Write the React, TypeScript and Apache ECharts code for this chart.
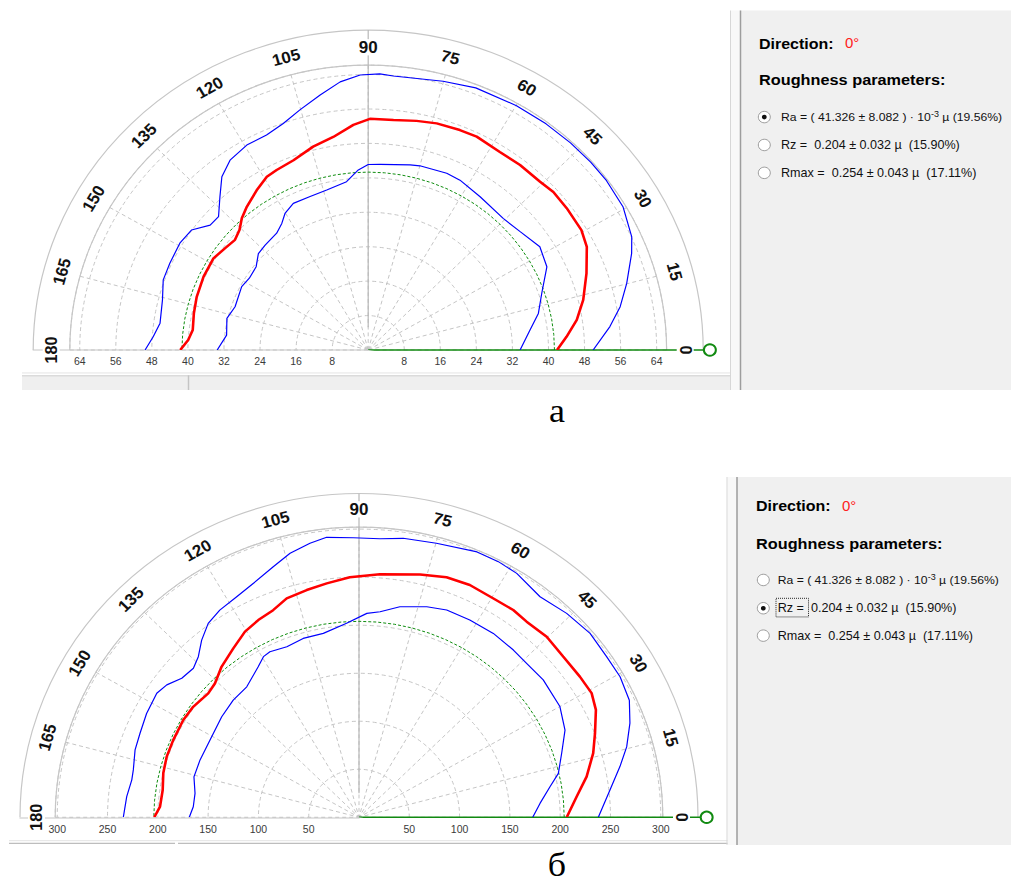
import { useEffect, useRef } from 'react';
import * as echarts from 'echarts';

// The whole sheet is laid out in an unsqueezed frame and then compressed
// vertically, so every y below is in that taller frame.
const PAGE_W = 1011;
const SQUASH_Y = 0.955;
const PAGE_H = Math.round(882 / SQUASH_Y);

const ANGLE_MIN = 0;
const ANGLE_MAX = 180;
const ANGLE_TICK = 15;
const angleTicks = [0, 15, 30, 45, 60, 75, 90, 105, 120, 135, 150, 165, 180];

// Sample angles for the dashed mean circle
const meanCircleAngles = [
  0, 5, 10, 15, 20, 25, 30, 35, 40, 45, 50, 55, 60, 65, 70, 75, 80, 85, 90,
  95, 100, 105, 110, 115, 120, 125, 130, 135, 140, 145, 150, 155, 160, 165, 170, 175, 180,
];

type Pt = [number, number]; // [angle in degrees, value]

// ---------- Plot а : Ra, 10^-3 µ ----------
const RA_MEAN = 41.326;
const RA_TICK = 8;
const RA_LAST_LABEL = 64;

const raMid: Pt[] = [
  [0, 41.9], [4.0, 44.1], [8.6, 46.8], [13.7, 49.1], [20.2, 51.6], [26.3, 54.1], [30.5, 54.9],
  [36.8, 55.0], [41.8, 55.1], [45.7, 54.6], [51.9, 54.6], [57.6, 54.5], [64.1, 55.1], [68.3, 55.0],
  [73.9, 54.8], [78.6, 54.3], [84.0, 53.7], [89.6, 53.7], [93.6, 52.4], [98.9, 50.1], [104.5, 48.8],
  [110.6, 47.1], [115.9, 46.5], [119.2, 46.1], [123.7, 44.6], [129.0, 42.8], [132.5, 41.5],
  [135.7, 39.9], [139.1, 39.1], [143.4, 39.6], [148.2, 40.4], [155.0, 40.3], [162.0, 40.0],
  [167.6, 39.6], [173.2, 39.2], [176.7, 40.0], [180, 41.7],
];
const raUpper: Pt[] = [
  [0, 49.9], [5.8, 53.9], [10.2, 56.8], [15.1, 59.4], [21.0, 62.6], [24.2, 64.1], [30.5, 65.6],
  [36.7, 65.9], [41.5, 65.9], [47.0, 65.8], [53.1, 65.7], [59.9, 65.6], [68.6, 65.4], [75.1, 64.6],
  [85.0, 63.9], [87.7, 64.2], [91.6, 63.9], [95.7, 62.6], [100.2, 60.2], [105.2, 57.8], [109.7, 55.9],
  [114.3, 54.8], [119.5, 54.7], [124.8, 53.7], [128.9, 51.7], [132.7, 48.5], [137.0, 45.4],
  [140.4, 45.5], [144.6, 48.1], [149.3, 48.6], [155.4, 48.4], [160.3, 48.3], [165.7, 47.1],
  [172.3, 46.6], [176.3, 47.8], [180, 49.5],
];
const raLower: Pt[] = [
  [0, 33.7], [7.4, 36.2], [12.7, 38.7], [18.9, 40.7], [26.0, 44.1], [32.2, 45.0], [39.2, 43.5],
  [45.6, 42.8], [55.1, 43.4], [62.7, 44.4], [67.0, 44.6], [75.0, 44.3], [77.8, 44.0], [86.5, 43.2],
  [90, 43.1], [93.0, 41.9], [97.0, 39.4], [103.9, 38.3], [110.1, 37.9], [116.0, 37.9], [120.2, 36.7],
  [123.1, 35.1], [126.8, 33.9], [133.2, 33.4], [137.4, 33.1], [142.1, 31.5], [147.7, 31.2],
  [152.3, 31.7], [161.2, 31.2], [166.8, 32.2], [173.7, 31.6], [180, 33.5],
];

// ---------- Plot б : Rz, 10^-3 µ ----------
const RZ_MEAN = 204;
const RZ_TICK = 50;
const RZ_LAST_LABEL = 300;

const rzMid: Pt[] = [
  [0, 206.5], [5.7, 217.5], [10.6, 230.2], [16.0, 242.2], [20.4, 250.3], [25.4, 260.7], [29.2, 264.9],
  [33.7, 263.9], [39.5, 263.0], [45.2, 264.8], [50.7, 263.1], [54.6, 264.7], [59.6, 264.1],
  [65.5, 265.7], [70.8, 264.6], [76.5, 260.0], [85.3, 253.8], [92.1, 250.0], [97.5, 245.6],
  [102.4, 242.2], [107.5, 239.0], [111.6, 231.9], [116.0, 228.4], [120.4, 224.0], [125.4, 215.7],
  [131.1, 207.9], [135.8, 199.8], [139.3, 197.7], [145.1, 201.0], [149.9, 201.9], [156.5, 201.4],
  [161.8, 201.3], [166.7, 199.9], [171.7, 197.2], [176.8, 198.1], [180, 203.5],
];
const rzUpper: Pt[] = [
  [0, 237.9], [6.5, 251.1], [11.5, 264.7], [15.4, 276.0], [20.0, 286.6], [24.4, 295.1], [29.4, 297.9],
  [34.2, 297.6], [39.8, 299.0], [45.8, 296.1], [51.9, 291.7], [58.3, 298.4], [62.5, 300], [67.2, 300],
  [74.9, 295.4], [81.4, 293.7], [85.9, 290.7], [91.1, 291.0], [96.3, 293.2], [99.7, 289.3],
  [104.0, 283.2], [108.1, 274.4], [113.3, 265.2], [117.9, 259.8], [122.7, 256.2], [126.6, 251.4],
  [130.3, 241.8], [133.7, 231.2], [136.7, 226.2], [140.6, 228.0], [144.2, 235.6], [147.3, 238.9],
  [152.9, 237.2], [158.1, 234.6], [162.5, 233.4], [167.6, 229.7], [170.2, 229.2], [174.7, 231.9],
  [180, 234.3],
];
const rzLower: Pt[] = [
  [0, 172.7], [4.6, 180.5], [9.5, 192.5], [13.0, 203.4], [18.3, 212.2], [23.9, 224.0], [30.0, 230.6],
  [38.0, 232.4], [43.9, 231.2], [48.6, 232.1], [55.1, 233.4], [61.8, 233.1], [68.0, 232.7],
  [72.9, 229.3], [79.5, 222.9], [84.4, 215.0], [87.9, 212.4], [93.5, 202.3], [100.5, 194.7],
  [106.6, 194.3], [112.0, 191.5], [117.2, 193.7], [119.6, 192.3], [122.6, 186.0], [129.4, 175.8],
  [135.7, 174.7], [142.5, 172.0], [151.5, 168.5], [159.3, 168.9], [165.6, 169.4], [171.3, 164.9],
  [176.2, 165.1], [180, 168.7],
];

// Side panel readings
const DIRECTION = '0°';
const paramRows = [
  'Ra = ( 41.326 ± 8.082 ) · 10{s|-3} µ (19.56%)',
  'Rz =  0.204 ± 0.032 µ  (15.90%)',
  'Rmax =  0.254 ± 0.043 µ  (17.11%)',
];

const GRID_SOLID = '#c6c6c6';
const GRID_DASH = '#c4c4c4';
const RED = '#ff0000';
const BLUE = '#0000ff';
const GREEN = '#118a11';
const FONT = 'Liberation Sans';

interface PlotSpec {
  center: [number, number];
  innerR: number;
  outerR: number;
  labelR: number;
  max: number;
  tick: number;
  lastLabel: number;
  mean: number;
  mid: Pt[];
  upper: Pt[];
  lower: Pt[];
  vlineFrom: number;
  dirLen: number;
}

const plots: PlotSpec[] = [
  {
    center: [368.2, 366.5], innerR: 298.4, outerR: 335, labelR: 317, max: 66.2, tick: RA_TICK,
    lastLabel: RA_LAST_LABEL, mean: RA_MEAN, mid: raMid, upper: raUpper, lower: raLower,
    vlineFrom: 5.3, dirLen: 75.8,
  },
  {
    center: [359, 855.8], innerR: 303.8, outerR: 339, labelR: 322.5, max: 302, tick: RZ_TICK,
    lastLabel: RZ_LAST_LABEL, mean: RZ_MEAN, mid: rzMid, upper: rzUpper, lower: rzLower,
    vlineFrom: 25, dirLen: 345.6,
  },
];

const POLARS_PER_PLOT = 4;
// the pointer frame opens a little past the half-disc so a ray lying on 0° is not cut in half
const POINTER_PAD = 10;
const flip = (pts: Pt[]) => pts.map(([a, v]) => [v, a]);

function buildPlot(p: PlotSpec, base: number) {
  const scale = p.innerR / p.max;
  const outerMax = p.outerR / scale;
  const pointerR = p.outerR + 20;
  const pointerMax = pointerR / scale;
  const labelRing = p.labelR / scale;
  const tickFmt = (v: number) => (v <= 0 || v > p.lastLabel ? '' : String(v));
  const radLabel = { fontFamily: FONT, fontSize: 10.5, color: '#3a3a3a' };
  const hiddenAngle = (polarIndex: number, min: number, max: number, startAngle: number, endAngle: number, clockwise: boolean) => ({
    polarIndex, type: 'value', min, max, startAngle, endAngle, clockwise,
    axisLine: { show: false }, axisTick: { show: false }, axisLabel: { show: false }, splitLine: { show: false },
  });
  const hiddenRadius = (polarIndex: number, max: number) => ({
    polarIndex, type: 'value', min: 0, max,
    axisLine: { show: false }, axisTick: { show: false }, axisLabel: { show: false }, splitLine: { show: false },
  });

  // 0: data frame, 1: label ring, 2: left-hand scale, 3: direction pointer
  const polar = [
    { center: p.center, radius: [0, p.innerR] },
    { center: p.center, radius: [0, p.outerR] },
    { center: p.center, radius: [0, p.outerR] },
    { center: p.center, radius: [0, pointerR] },
  ];

  const angleAxis = [
    {
      polarIndex: base, type: 'value', min: ANGLE_MIN, max: ANGLE_MAX, interval: ANGLE_TICK,
      startAngle: 0, endAngle: 180, clockwise: false,
      axisLine: { show: true, lineStyle: { color: GRID_SOLID, width: 1.2 } },
      axisTick: { show: false }, axisLabel: { show: false },
      splitLine: { show: true, lineStyle: { color: GRID_DASH, width: 1, type: [4, 3] } },
    },
    {
      polarIndex: base + 1, type: 'value', min: ANGLE_MIN, max: ANGLE_MAX, interval: ANGLE_TICK,
      startAngle: 0, endAngle: 180, clockwise: false,
      axisLine: { show: true, lineStyle: { color: GRID_SOLID, width: 1.2 } },
      axisTick: { show: false }, axisLabel: { show: false }, splitLine: { show: false },
    },
    hiddenAngle(base + 2, ANGLE_MIN, ANGLE_MAX, 180, 0, true),
    hiddenAngle(base + 3, ANGLE_MIN - POINTER_PAD, ANGLE_MAX + POINTER_PAD, -POINTER_PAD, 180 + POINTER_PAD, false),
  ];

  const radiusAxis = [
    {
      polarIndex: base, type: 'value', min: 0, max: p.max, interval: p.tick,
      axisLine: { show: false }, axisTick: { show: false },
      splitLine: { show: true, lineStyle: { color: GRID_DASH, width: 1, type: [4, 3] } },
      axisLabel: { ...radLabel, margin: -7, verticalAlign: 'top', formatter: tickFmt },
    },
    hiddenRadius(base + 1, outerMax),
    {
      polarIndex: base + 2, type: 'value', min: 0, max: outerMax, interval: p.tick,
      axisLine: { show: true, lineStyle: { color: GRID_SOLID, width: 1.2 } },
      axisTick: { show: false }, splitLine: { show: false },
      axisLabel: { ...radLabel, margin: 7, formatter: tickFmt },
    },
    hiddenRadius(base + 3, pointerMax),
  ];

  const line = (data: number[][], polarIndex: number, color: string, width: number, z: number, type: any = 'solid') => ({
    type: 'line', coordinateSystem: 'polar', polarIndex, data, symbol: 'none', showSymbol: false,
    lineStyle: { color, width, type }, z, silent: true, clip: false,
  });

  const series = [
    // vertical 90° reference
    line([[p.vlineFrom, 90], [outerMax, 90]], base + 1, '#b8b8b8', 1.2, 3),
    // measurement direction pointer
    {
      type: 'line', coordinateSystem: 'polar', polarIndex: base + 3, clip: false, silent: true, z: 3,
      data: [{ value: [0, 0], symbol: 'none' }, { value: [p.dirLen, 0], symbol: 'emptyCircle', symbolSize: 12 }],
      showSymbol: true, lineStyle: { color: GREEN, width: 1.6 },
      itemStyle: { color: GREEN, borderWidth: 1.5 },
    },
    // angle labels set along the ring, turned to follow it
    {
      type: 'custom', coordinateSystem: 'polar', polarIndex: base + 1, silent: true, z: 4, clip: false,
      data: angleTicks.map((a) => [labelRing, a]),
      renderItem: (_params: any, api: any) => {
        const ang = api.value(1);
        const pt = api.coord([api.value(0), ang]);
        return {
          type: 'text', x: pt[0], y: pt[1], rotation: ((ang - 90) * Math.PI) / 180,
          style: {
            text: String(ang), fontFamily: FONT, fontSize: 17, fontWeight: 'bold', fill: '#111',
            align: 'center', verticalAlign: 'middle', backgroundColor: '#ffffff', padding: [0, 1],
          },
        };
      },
    },
    line(meanCircleAngles.map((a) => [p.mean, a]), base, '#0a8a0a', 1, 5, [3, 2]),
    line(flip(p.upper), base, BLUE, 1.2, 6),
    line(flip(p.lower), base, BLUE, 1.2, 6),
    line(flip(p.mid), base, RED, 2.6, 7),
  ];

  return { polar, angleAxis, radiusAxis, series };
}

function panelGraphics(top: number, bottom: number, x0: number, rows: { dir: number; rough: number; r: number[] }, selected: number, textX: number, radioX: number, labelX: number) {
  const els: any[] = [];
  els.push({ type: 'rect', shape: { x: x0 - 9, y: top, width: 9, height: bottom - top }, style: { fill: '#f8f8f8' }, silent: true });
  els.push({ type: 'line', shape: { x1: x0 - 9.5, y1: top, x2: x0 - 9.5, y2: bottom }, style: { stroke: '#d6d6d6', lineWidth: 1 }, silent: true });
  els.push({ type: 'rect', shape: { x: x0, y: top, width: PAGE_W - x0, height: bottom - top }, style: { fill: '#f0f0f0' }, silent: true });
  els.push({ type: 'line', shape: { x1: x0 + 0.5, y1: top, x2: x0 + 0.5, y2: bottom }, style: { stroke: '#9d9d9d', lineWidth: 1.5 }, silent: true });
  els.push({ type: 'text', x: labelX, y: rows.dir, style: { text: 'Direction:', fontFamily: FONT, fontSize: 16, fontWeight: 'bold', fill: '#000', verticalAlign: 'middle' }, silent: true });
  els.push({ type: 'text', x: labelX + 86, y: rows.dir, style: { text: DIRECTION, fontFamily: FONT, fontSize: 15, fill: '#ff2020', verticalAlign: 'middle' }, silent: true });
  els.push({ type: 'text', x: labelX, y: rows.rough, style: { text: 'Roughness parameters:', fontFamily: FONT, fontSize: 16.3, fontWeight: 'bold', fill: '#000', verticalAlign: 'middle' }, silent: true });
  paramRows.forEach((text, i) => {
    const y = rows.r[i];
    els.push({ type: 'circle', shape: { cx: radioX, cy: y, r: 6 }, style: { fill: '#ffffff', stroke: '#9a9a9a', lineWidth: 1 }, silent: true });
    if (i === selected) {
      els.push({ type: 'circle', shape: { cx: radioX, cy: y, r: 2.4 }, style: { fill: '#111' }, silent: true });
    }
    els.push({
      type: 'text', x: textX, y, silent: true,
      style: {
        text, fontFamily: FONT, fontSize: i === 0 ? 12.2 : 12.6, fill: '#111', verticalAlign: 'middle',
        rich: { s: { fontFamily: FONT, fontSize: 9, fill: '#111', verticalAlign: 'top', padding: [0, 0, 7, 0] } },
      },
    });
  });
  return els;
}

export default function App() {
  const ref = useRef<HTMLDivElement>(null);

  useEffect(() => {
    if (!ref.current) return;
    const chart = echarts.init(ref.current, undefined, { renderer: 'svg' });
    const a = buildPlot(plots[0], 0);
    const b = buildPlot(plots[1], POLARS_PER_PLOT);

    const graphic: any[] = [
      // lower strip under plot а
      { type: 'rect', shape: { x: 22, y: 393, width: 713, height: 15.4 }, style: { fill: '#efefef' }, silent: true },
      { type: 'line', shape: { x1: 22, y1: 390.5, x2: 735, y2: 390.5 }, style: { stroke: '#e4e4e4', lineWidth: 1 }, silent: true },
      { type: 'line', shape: { x1: 22, y1: 393.5, x2: 735, y2: 393.5 }, style: { stroke: '#cfcfcf', lineWidth: 1 }, silent: true },
      { type: 'line', shape: { x1: 188.5, y1: 393, x2: 188.5, y2: 408.4 }, style: { stroke: '#c4c4c4', lineWidth: 1.5 }, silent: true },
      // lower edge of plot б
      { type: 'line', shape: { x1: 9, y1: 880.3, x2: 733, y2: 880.3 }, style: { stroke: '#e2e2e2', lineWidth: 1 }, silent: true },
      { type: 'line', shape: { x1: 9, y1: 883.1, x2: 175, y2: 883.1 }, style: { stroke: '#bdbdbd', lineWidth: 1.2 }, silent: true },
      { type: 'line', shape: { x1: 178, y1: 883.1, x2: 733, y2: 883.1 }, style: { stroke: '#bdbdbd', lineWidth: 1.2 }, silent: true },
      ...panelGraphics(11, 408.4, 740, { dir: 45.4, rough: 83.8, r: [122.6, 151.8, 181] }, 0, 781, 764.3, 759),
      ...panelGraphics(499.5, 884.8, 736.5, { dir: 529.5, rough: 568.9, r: [607.3, 636.9, 665.6] }, 1, 777.7, 763.3, 756),
      // focus frame round the selected label
      { type: 'rect', shape: { x: 776, y: 626.5, width: 32.5, height: 19.5 }, style: { fill: 'none', stroke: '#222', lineWidth: 1, lineDash: [1, 1] }, silent: true },
      // sub-figure captions
      { type: 'text', x: 557, y: 430, style: { text: 'а', fontFamily: 'Liberation Serif', fontSize: 36, fill: '#000', align: 'center', verticalAlign: 'middle' }, silent: true },
      { type: 'text', x: 557, y: 905, style: { text: 'б', fontFamily: 'Liberation Serif', fontSize: 36, fill: '#000', align: 'center', verticalAlign: 'middle' }, silent: true },
    ];

    chart.setOption({
      animation: false,
      backgroundColor: '#ffffff',
      polar: [...a.polar, ...b.polar],
      angleAxis: [...a.angleAxis, ...b.angleAxis],
      radiusAxis: [...a.radiusAxis, ...b.radiusAxis],
      series: [...a.series, ...b.series],
      graphic,
    } as any);

    return () => chart.dispose();
  }, []);

  return (
    <div
      style={{
        position: 'absolute', left: 0, top: 0, width: PAGE_W, height: PAGE_H,
        transform: `scaleY(${SQUASH_Y})`, transformOrigin: '0 0', background: '#fff',
      }}
    >
      <div ref={ref} style={{ width: PAGE_W, height: PAGE_H }} />
    </div>
  );
}
